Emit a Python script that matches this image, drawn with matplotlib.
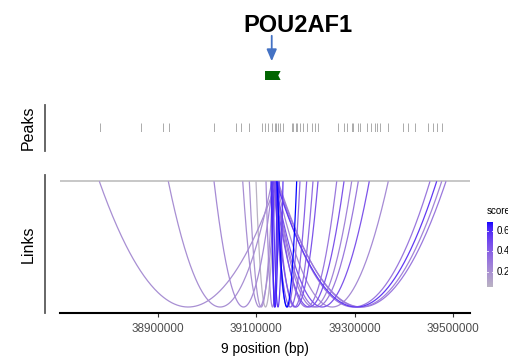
import numpy as np
import matplotlib
matplotlib.use('Agg')
import matplotlib.pyplot as plt
from matplotlib.colors import ListedColormap, Normalize
from matplotlib.patches import Polygon

# region / gene
gene_name = 'POU2AF1'
gene_start, gene_end = 39117900, 39149500
arrow_pos = 39131500
region = (38701600, 39534100)
xticks = [38900000, 39100000, 39300000, 39500000]

# peaks (bp)
peak_pos = [38782800, 38865500, 38911400, 38922900, 39014900, 39058000, 39069100,
            39084400, 39111200, 39117900, 39124600, 39131500, 39138200, 39141200,
            39144300, 39148300, 39155000, 39172100, 39175700, 39179800, 39182800,
            39188900, 39195000, 39202500, 39212700, 39219400, 39226100, 39266700,
            39278300, 39283800, 39293900, 39297200, 39306700, 39310800, 39324400,
            39332500, 39341200, 39344700, 39351400, 39367600, 39398100, 39408200,
            39422400, 39448800, 39459000, 39467100, 39476700]

# links
link_start = [38781400, 38921500, 39014300, 39072600, 39086000, 39099600, 39119900,
              39130100, 39132100, 39134100, 39142200, 39138200, 39136100, 39140200,
              39136100, 39140200, 39136100, 39138200, 39138200, 39138200, 39140200,
              39142200, 39140200, 39144300, 39142200]
link_end = [39142200, 39132100, 39134100, 39140200, 39134100, 39138200, 39146300,
            39146300, 39142200, 39154400, 39182200, 39188900, 39202500, 39215300,
            39225500, 39263500, 39278300, 39293900, 39307300, 39329600, 39368200,
            39452900, 39466500, 39476700, 39485400]
link_score = [0.20, 0.20, 0.22, 0.20, 0.18, 0.05, 0.22,
              0.62, 0.60, 0.55, 0.69, 0.35, 0.40, 0.35,
              0.45, 0.30, 0.45, 0.25, 0.30, 0.45, 0.22,
              0.30, 0.55, 0.25, 0.30]


def to_lab(rgb):
    c = np.asarray(rgb, float)
    lin = np.where(c <= 0.04045, c / 12.92, ((c + 0.055) / 1.055) ** 2.4)
    M = np.array([[0.4124, 0.3576, 0.1805], [0.2126, 0.7152, 0.0722], [0.0193, 0.1192, 0.9505]])
    xyz = M @ lin / np.array([0.95047, 1.0, 1.08883])
    f = np.where(xyz > 0.008856, np.cbrt(xyz), 7.787 * xyz + 16 / 116)
    return np.array([116 * f[1] - 16, 500 * (f[0] - f[1]), 200 * (f[1] - f[2])])


def from_lab(lab):
    L, a, b = lab
    fy = (L + 16) / 116
    f = np.array([fy + a / 500, fy, fy - b / 200])
    xyz = np.where(f > 0.2069, f ** 3, (f - 16 / 116) / 7.787) * np.array([0.95047, 1.0, 1.08883])
    Mi = np.array([[3.2406, -1.5372, -0.4986], [-0.9689, 1.8758, 0.0415], [0.0557, -0.2040, 1.0570]])
    lin = Mi @ xyz
    c = np.where(lin <= 0.0031308, 12.92 * lin, 1.055 * np.clip(lin, 0, None) ** (1 / 2.4) - 0.055)
    return np.clip(c, 0, 1)


grey, blue = to_lab([190 / 255] * 3), to_lab([0, 0, 1])
cmap = ListedColormap([from_lab(grey + (blue - grey) * t) for t in np.linspace(0, 1, 256)])
smax = max(link_score)
norm = Normalize(0, smax)

narrow = ['Liberation Sans Narrow', 'Liberation Sans', 'DejaVu Sans']
W, H = 508, 357
fig = plt.figure(figsize=(W / 100, H / 100), dpi=100)


def px_axes(x0, y0, x1, y1):
    return fig.add_axes([x0 / W, 1 - y1 / H, (x1 - x0) / W, (y1 - y0) / H])


# title
fig.text(298 / W, 1 - 32 / H, gene_name, ha='center', va='baseline', fontsize=17,
         fontweight='bold', family=['Liberation Sans', 'DejaVu Sans'])

# gene track
gax = px_axes(60, 30, 470, 85)
gax.set_xlim(region)
gax.set_ylim(85, 30)
gax.axis('off')
gax.annotate('', xy=(arrow_pos, 64), xytext=(arrow_pos, 33),
             arrowprops=dict(arrowstyle='-|>,head_width=0.3,head_length=0.7', color='#4472C4', lw=1.3))
notch = (gene_end - gene_start) * 0.15
gax.add_patch(Polygon([(gene_start, 71), (gene_end, 71), (gene_end - notch, 75.5),
                       (gene_end, 80), (gene_start, 80)], closed=True, color='#006400', lw=0))

# peaks track
pax = px_axes(60, 123, 470, 132)
pax.set_xlim(region)
pax.set_ylim(0, 1)
pax.axis('off')
pax.vlines(peak_pos, 0, 1, color='#8a8a8a', lw=0.5)

# links track
ax = px_axes(60, 175, 470, 313.3)
ax.set_xlim(region)
ax.set_ylim(-0.525, 0.025)
ax.axhline(0, color='#BEBEBE', lw=1.2)
t = np.linspace(0, 1, 200)
for i in np.argsort(link_score):
    x = link_start[i] + (link_end[i] - link_start[i]) * t
    y = -2 * t * (1 - t)
    ax.plot(x, y, color=cmap(norm(link_score[i])), lw=0.9, solid_capstyle='butt')
for s in ['top', 'right', 'left']:
    ax.spines[s].set_visible(False)
ax.spines['bottom'].set_linewidth(1.5)
ax.set_yticks([])
ax.set_xticks(xticks)
ax.set_xticklabels([str(v) for v in xticks], family=narrow, fontsize=8.5, color='#4D4D4D')
ax.tick_params(axis='x', length=3, width=0.8, color='#333333', pad=4)

# track labels and side lines
fig.text(28 / W, 1 - 128 / H, 'Peaks', rotation=90, ha='center', va='center', fontsize=11.5,
         family=['Liberation Sans', 'DejaVu Sans'])
fig.text(28 / W, 1 - 244 / H, 'Links', rotation=90, ha='center', va='center', fontsize=11.5,
         family=['Liberation Sans', 'DejaVu Sans'])
fig.add_artist(plt.Line2D([44.5 / W] * 2, [1 - 105 / H, 1 - 150.7 / H], color='#5a5a5a', lw=1.3))
fig.add_artist(plt.Line2D([44.5 / W] * 2, [1 - 175 / H, 1 - 312.7 / H], color='#5a5a5a', lw=1.3))
fig.text(265 / W, 1 - 349 / H, '9 position (bp)', ha='center', va='center', fontsize=10, family=narrow)

# colour legend
smin = min(link_score)
cax = px_axes(487, 222, 493, 287)
grad = np.linspace(smin, smax, 100).reshape(-1, 1)
cax.imshow(grad, cmap=cmap, norm=norm, aspect='auto', origin='lower', extent=(0, 1, smin, smax))
cax.set_xlim(0, 1)
cax.set_ylim(smin, smax)
cax.axis('off')
for v in [0.2, 0.4, 0.6]:
    cax.plot([0, 0.2], [v, v], color='white', lw=0.6)
    cax.plot([0.8, 1], [v, v], color='white', lw=0.6)
    fig.text(497 / W, 1 - (287 - (v - smin) / (smax - smin) * 65) / H, f'{v:.1f}',
             ha='left', va='center', fontsize=7, family=narrow)
fig.text(487 / W, 1 - 211 / H, 'score', ha='left', va='center', fontsize=7, family=narrow)

fig.savefig('out.png', dpi=100)
